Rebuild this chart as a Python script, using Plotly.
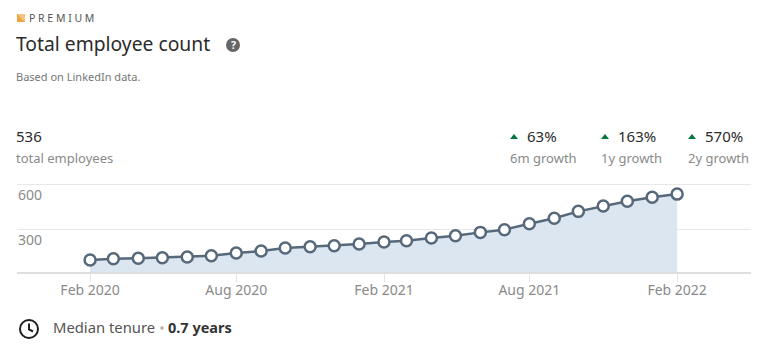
import plotly.graph_objects as go

W, H = 770, 355
L, R, T, B = 17, 751, 177, 272

months = ["2020-02","2020-03","2020-04","2020-05","2020-06","2020-07","2020-08","2020-09","2020-10","2020-11","2020-12","2021-01",
          "2021-02","2021-03","2021-04","2021-05","2021-06","2021-07","2021-08","2021-09","2021-10","2021-11","2021-12","2022-01","2022-02"]
employees = [97,105,108,112,117,125,143,157,177,185,192,203,217,225,243,259,281,299,339,375,421,457,488,515,536]
y_ticks = [300, 600]
x_ticks = ["2020-02-01","2020-08-01","2021-02-01","2021-08-01","2022-02-01"]
x_labels = ["Feb 2020","Aug 2020","Feb 2021","Aug 2021","Feb 2022"]
growth = [("63%","6m growth",510,527),("163%","1y growth",601,618),("570%","2y growth",688,705)]

FONT = "Noto Sans"
DARK, GREY, LINE = "#2b2b2b", "#8a8a8a", "#56687a"

def px(x): return (x - L) / (R - L)
def py(y): return (B - y) / (B - T)

fig = go.Figure(go.Scatter(
    x=[m + "-01" for m in months], y=employees, mode="lines+markers",
    line=dict(color=LINE, width=2.5), fill="tozeroy", fillcolor="#dce6f1",
    marker=dict(size=11, color="white", line=dict(color=LINE, width=2.5)),
    hoverinfo="x+y", cliponaxis=False))

def text(x, y, s, size, color=DARK, anchor="left"):
    fig.add_annotation(xref="paper", yref="paper", x=px(x), y=py(y), text=s, showarrow=False,
                       xanchor=anchor, yanchor="middle", borderpad=0, borderwidth=0,
                       font=dict(family=FONT, size=size, color=color))

def rect(x0, y0, x1, y1, color):
    fig.add_shape(type="rect", xref="paper", yref="paper", x0=px(x0), x1=px(x1), y0=py(y0), y1=py(y1),
                  fillcolor=color, line_width=0)

def poly(points, color):
    d = "M" + " L".join(f"{px(a):.5f},{py(b):.5f}" for a, b in points) + " Z"
    fig.add_shape(type="path", xref="paper", yref="paper", path=d, fillcolor=color, line_width=0)

def circle(cx, cy, r, fill, line=None, lw=0):
    fig.add_shape(type="circle", xref="paper", yref="paper", x0=px(cx-r), x1=px(cx+r), y0=py(cy+r), y1=py(cy-r),
                  fillcolor=fill, line=dict(color=line or fill, width=lw))

# header
rect(17, 14, 25, 22, "#f6c584")
poly([(17, 14), (25, 22), (17, 22)], "#eea53f")
text(29, 18, "P R E M I U M", 10.5, "#555555")
text(16, 43, "Total employee count", 19.3)
circle(233, 45, 7, "#666666")
text(233, 44.5, "<b>?</b>", 10.5, "white", "center")
text(16, 77, "Based on LinkedIn data.", 11, "#777777")

# summary
text(16, 136, "536", 15)
text(16, 157.5, "total employees", 13, GREY)
for val, lab, tx, vx in growth:
    poly([(tx, 139), (tx + 8, 139), (tx + 4, 134)], "#057642")
    text(vx, 136, val, 15)
    text(tx, 157.5, lab, 13, GREY)

# y tick labels sit under their gridlines
for v in y_ticks:
    fig.add_annotation(xref="paper", yref="y", x=0, y=v, yshift=-10, text=str(v), showarrow=False,
                       xanchor="left", xshift=-1.5, yanchor="middle", font=dict(family=FONT, size=14, color=GREY))

# footer
circle(29, 329, 9, "white", "#1f1f1f", 2)
fig.add_shape(type="path", xref="paper", yref="paper",
              path=f"M{px(29):.5f},{py(323.5):.5f} L{px(29):.5f},{py(329.5):.5f} L{px(33):.5f},{py(331.5):.5f}",
              line=dict(color="#1f1f1f", width=2))
text(52.5, 327, "Median tenure", 14.8, "#555555")
circle(162, 328, 1.7, "#b5a99a")
text(168, 327, "<b>0.7 years</b>", 14.5, "#333333")

fig.update_layout(
    width=W, height=H, showlegend=False, plot_bgcolor="white", paper_bgcolor="white",
    margin=dict(l=L, r=W - R, t=T, b=H - B, pad=0),
    xaxis=dict(type="date", range=["2019-11-02", "2022-05-04"], tickmode="array", tickvals=x_ticks, ticktext=x_labels,
               ticks="outside", ticklen=8, tickcolor="#e4e4e4", tickwidth=1, showgrid=False, zeroline=False,
               showline=True, linecolor="#dedede", linewidth=2, ticklabelstandoff=-4,
               tickfont=dict(family=FONT, size=14, color=GREY)),
    yaxis=dict(range=[17, 650], tickmode="array", tickvals=y_ticks, showticklabels=False, ticks="",
               showgrid=True, gridcolor="#e8e8e8", gridwidth=1, zeroline=False, showline=False),
)
fig.write_html("out.html", config={"displayModeBar": False}, post_script="document.body.style.margin='0';")
